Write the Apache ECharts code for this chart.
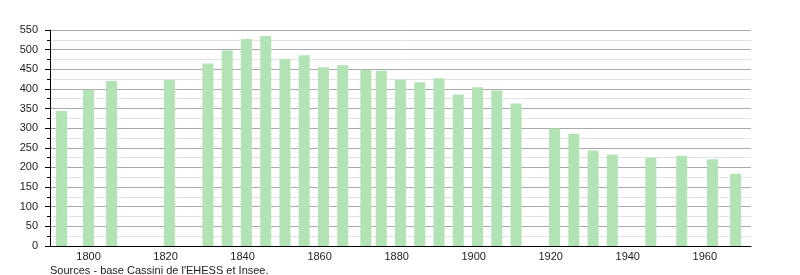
<!DOCTYPE html>
<html><head><meta charset="utf-8">
<script src="https://cdn.jsdelivr.net/npm/echarts@6/dist/echarts.min.js"></script>
<style>html,body{margin:0;padding:0;background:#fff}#c{width:800px;height:275px}</style>
</head><body><div id="c"></div>
<script>
var years = [1793,1800,1806,1821,1831,1836,1841,1846,1851,1856,1861,1866,1872,1876,1881,1886,1891,1896,1901,1906,1911,1921,1926,1931,1936,1946,1954,1962,1968];
var population = [344,398,420,423,465,498,527,535,476,486,455,460,449,446,424,417,427,386,404,396,363,299,286,243,233,225,230,221,184];
var xTickLabels = [1800,1820,1840,1860,1880,1900,1920,1940,1960];
var sourceText = "Sources - base Cassini de l'EHESS et Insee.";

var chart = echarts.init(document.getElementById('c'), null, {renderer:'canvas'});
chart.setOption({
  animation:false,
  grid:{left:50,right:49,top:30,bottom:29,containLabel:false},
  graphic:[{type:'text',left:50,top:265,style:{text:sourceText,fill:'#222',font:'11px "Liberation Sans", Arial, sans-serif'}}],
  xAxis:{type:'value',min:1790,max:1972,interval:10,
    axisLine:{show:true,onZero:false,lineStyle:{color:'#000',width:1}},
    axisTick:{show:false},
    splitLine:{show:false},
    axisLabel:{color:'#222',fontFamily:'Liberation Sans',fontSize:11,margin:5,
      formatter:function(v){return xTickLabels.indexOf(v)>=0? String(v):'';},showMinLabel:false,showMaxLabel:false}
  },
  yAxis:{type:'value',min:0,max:550,interval:50,
    axisLine:{show:true,lineStyle:{color:'#000',width:1}},
    axisTick:{show:true,length:5,lineStyle:{color:'#000'}},
    minorTick:{show:true,splitNumber:2,length:3,lineStyle:{color:'#000'}},
    splitLine:{show:true,lineStyle:{color:'#aaaaaa',width:1}},
    minorSplitLine:{show:true,lineStyle:{color:'#e2e2e2',width:1}},
    axisLabel:{color:'#222',fontFamily:'Liberation Sans',fontSize:11,margin:12}
  },
  series:[{type:'bar',barWidth:11,itemStyle:{color:'#b2e3b4'},
    data:years.map(function(y,i){return [y,population[i]];})}]
});
</script></body></html>
